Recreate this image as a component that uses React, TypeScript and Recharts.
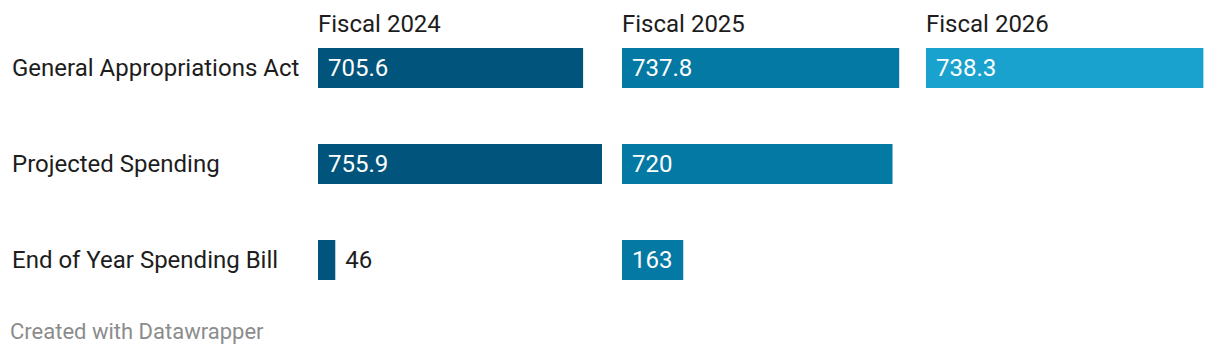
import { BarChart, Bar, XAxis, YAxis, LabelList } from "recharts";

const categories = ["General Appropriations Act", "Projected Spending", "End of Year Spending Bill"];
const fiscalYears = ["Fiscal 2024", "Fiscal 2025", "Fiscal 2026"];
const fy2024 = [705.6, 755.9, 46];
const fy2025 = [737.8, 720, 163];
const fy2026: (number | null)[] = [738.3, null, null];
const colors = ["#01547b", "#0479a3", "#19a2ce"];

const FONT = "Roboto, 'Noto Sans', sans-serif";
const PANEL_W = 284;
const LABEL_W = 318;
const PANEL_LEFT = [318, 622, 926];
const MAX = 755.9;

const series = [fy2024, fy2025, fy2026];

const BarLabel = (props: any) => {
  const { x, y, width, height, value } = props;
  if (value == null) return null;
  const inside = width > 40;
  return (
    <text
      x={inside ? x + 10 : x + width + 10}
      y={y + height / 2}
      dy={8}
      fontSize={24}
      fontFamily={FONT}
      fill={inside ? "#ffffff" : "#1d1d1d"}
      textAnchor="start"
    >
      {value}
    </text>
  );
};

const RowTick = (props: any) => {
  const { y, payload } = props;
  return (
    <text x={12} y={y} dy={8} fontSize={24} fontFamily={FONT} fill="#1d1d1d" textAnchor="start">
      {payload.value}
    </text>
  );
};

function Panel({ idx }: { idx: number }) {
  const first = idx === 0;
  const data = categories.map((c, i) => ({ name: c, value: series[idx][i] }));
  return (
    <div style={{ position: "absolute", left: first ? 0 : PANEL_LEFT[idx], top: 0 }}>
      <BarChart
        layout="vertical"
        width={(first ? LABEL_W : 0) + PANEL_W}
        height={330}
        data={data}
        margin={{ top: 20, right: 0, bottom: 22, left: 0 }}
        barCategoryGap={28}
      >
        <XAxis type="number" domain={[0, MAX]} hide allowDataOverflow />
        <YAxis
          type="category"
          dataKey="name"
          hide={!first}
          width={first ? LABEL_W : 0}
          axisLine={false}
          tickLine={false}
          tick={<RowTick />}
        />
        <Bar dataKey="value" fill={colors[idx]} isAnimationActive={false}>
          <LabelList dataKey="value" content={<BarLabel />} />
        </Bar>
      </BarChart>
      <div
        style={{
          position: "absolute",
          left: first ? LABEL_W : 0,
          top: 9,
          fontFamily: FONT,
          fontSize: 24,
          lineHeight: "30px",
          color: "#1d1d1d",
          whiteSpace: "nowrap",
        }}
      >
        {fiscalYears[idx]}
      </div>
    </div>
  );
}

export default function App() {
  return (
    <div style={{ position: "absolute", left: 0, top: 0, width: 1220, height: 356, background: "#fff" }}>
      {[0, 1, 2].map((i) => (
        <Panel key={i} idx={i} />
      ))}
      <div
        style={{
          position: "absolute",
          left: 10,
          top: 317,
          fontFamily: FONT,
          fontSize: 22,
          lineHeight: "30px",
          color: "#8c8c8c",
          whiteSpace: "nowrap",
        }}
      >
        Created with Datawrapper
      </div>
    </div>
  );
}
